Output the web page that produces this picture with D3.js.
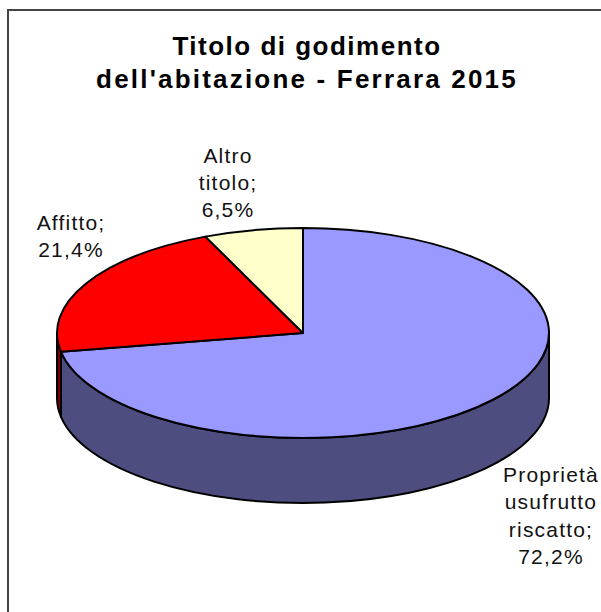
<!DOCTYPE html>
<html><head><meta charset="utf-8">
<script src="https://cdn.jsdelivr.net/npm/d3@7"></script>
<style>html,body{margin:0;padding:0;background:#fff}svg{display:block}text{font-family:"Liberation Sans",Arial,sans-serif}</style>
</head><body><svg id="c" width="601" height="612"></svg>
<script>
const categories = ["Proprietà usufrutto riscatto", "Affitto", "Altro titolo"];
const values = [72.2, 21.4, 6.5];
const topColors = ["#9999FF", "#FF0000", "#FFFFCC"];
const wallColors = ["#4D4D80", "#800000", "#808066"];
const labelLines = [["Proprietà","usufrutto","riscatto;","72,2%"],["Affitto;","21,4%"],["Altro","titolo;","6,5%"]];
const titleLines = ["Titolo di godimento","dell'abitazione - Ferrara 2015"];

const labelPos = [[551,482],[71,230],[228,163]];
const labelLead = [27.3,26.5,27];
const titleY = [55,88];
const titleTrack = [1.5,2.2];

const svg = d3.select("#c");
const cx=303, cy=333, rx=246, ry=105, depth=65;
svg.append("rect").attr("x",8).attr("y",10).attr("width",620).attr("height",640)
  .attr("fill","#fff").attr("stroke","#444").attr("stroke-width",2);

const arcs = d3.pie().sort(null).value(d=>d)(values);
const pt = (a,dy=0)=>[cx+rx*Math.sin(a), cy-ry*Math.cos(a)+dy];

// side wall: visible between 90deg and 270deg clockwise from the top
arcs.forEach((d,i)=>{
  const a0=Math.max(d.startAngle,Math.PI/2), a1=Math.min(d.endAngle,Math.PI*1.5);
  if(a1<=a0) return;
  const A=(a,dy,sweep)=>{const q=pt(a,dy);return `A${rx},${ry} 0 0 ${sweep} ${q[0]},${q[1]}`;};
  const s=pt(a0),e=pt(a1,depth);
  const path=`M${s} ${A(a1,0,1)} L${e} ${A(a0,depth,0)} Z`;
  svg.append("path").attr("d",path).attr("fill",wallColors[i]).attr("stroke","#000").attr("stroke-width",2).attr("stroke-linejoin","round");
});

// top face: d3.arc in a vertically squashed group
const arc=d3.arc().innerRadius(0).outerRadius(rx);
const face=svg.append("g").attr("transform",`translate(${cx},${cy}) scale(1,${ry/rx})`);
face.selectAll("path").data(arcs).join("path").attr("d",arc)
  .attr("fill",(d,i)=>topColors[i]).attr("stroke","#000").attr("stroke-width",2)
  .attr("stroke-linejoin","round").attr("vector-effect","non-scaling-stroke");

svg.selectAll("text.t").data(titleLines).join("text").attr("class","t")
  .attr("x",307).attr("y",(d,i)=>titleY[i]).attr("text-anchor","middle")
  .attr("font-size",26).attr("font-weight","bold").attr("letter-spacing",(d,i)=>titleTrack[i]).attr("fill","#000").text(d=>d);

labelLines.forEach((lines,i)=>{
  svg.selectAll(null).data(lines).join("text")
    .attr("x",labelPos[i][0]).attr("y",(d,j)=>labelPos[i][1]+j*labelLead[i])
    .attr("text-anchor","middle").attr("font-size",21).attr("letter-spacing",1.2).attr("fill","#111").text(d=>d);
});
</script></body></html>
